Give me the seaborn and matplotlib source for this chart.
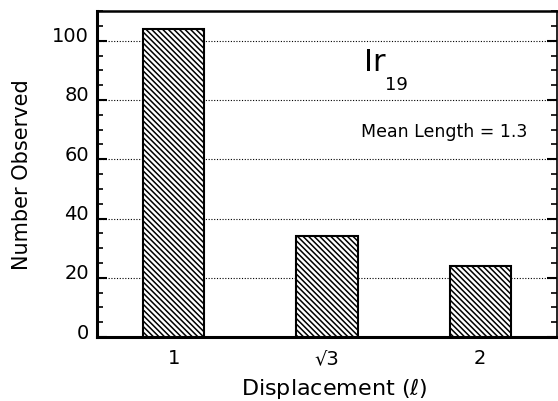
import matplotlib
matplotlib.use("Agg")
import seaborn as sns
import matplotlib.pyplot as plt
import matplotlib.transforms as mtransforms
from matplotlib.ticker import MultipleLocator

# Counts
displacements = ['1', '√3', '2']
counts = [104, 34, 24]

sns.set_style('white')
plt.rcParams['font.family'] = ['DejaVu Sans']
plt.rcParams['hatch.linewidth'] = 1.1
plt.rcParams['text.color'] = 'black'
plt.rcParams['axes.labelcolor'] = 'black'
plt.rcParams['xtick.color'] = 'black'
plt.rcParams['ytick.color'] = 'black'

fig = plt.figure(figsize=(5.58, 4.02), dpi=100)
ax = fig.add_axes([0.174, 0.159, 0.824, 0.811])

sns.barplot(x=displacements, y=counts, color='white', edgecolor='black',
            linewidth=1.5, width=0.4, hatch='\\\\\\\\\\\\', ax=ax, zorder=3)

ax.set_xlim(-0.5, 2.5)
ax.set_ylim(0, 110)
ax.yaxis.set_major_locator(MultipleLocator(20))
ax.yaxis.set_minor_locator(MultipleLocator(5))
ax.grid(axis='y', which='major', linestyle=(0, (1, 1.5)), color='black', linewidth=0.8, zorder=0)

ax.tick_params(axis='y', which='major', direction='in', length=7, width=1.5,
               left=True, right=True, labelsize=14, pad=6)
ax.tick_params(axis='y', which='minor', direction='in', length=4, width=1.2,
               left=True, right=True)
ax.tick_params(axis='x', length=0, labelsize=14, pad=8)

# y labels sit a little above their ticks in the original
shift = mtransforms.ScaledTranslation(0, 0.07, fig.dpi_scale_trans)
for lbl in ax.get_yticklabels():
    lbl.set_transform(lbl.get_transform() + shift)

for side, lw in [('left', 2.2), ('bottom', 2.2), ('top', 1.8), ('right', 1.2)]:
    ax.spines[side].set_linewidth(lw)
    ax.spines[side].set_color('black')

ax.set_ylabel('Number Observed', fontsize=15, labelpad=14)
ax.set_xlabel('Displacement ($\\ell$)', fontsize=16, labelpad=1)
ax.xaxis.set_label_coords(0.515, -0.115)

ax.text(0.603, 0.845, 'Ir', transform=ax.transAxes, fontsize=22, va='center', ha='center')
ax.text(0.651, 0.776, '19', transform=ax.transAxes, fontsize=13, va='center', ha='center')
ax.text(0.755, 0.632, 'Mean Length = 1.3', transform=ax.transAxes, fontsize=12.5, va='center', ha='center')

fig.savefig('out.png', dpi=100)
